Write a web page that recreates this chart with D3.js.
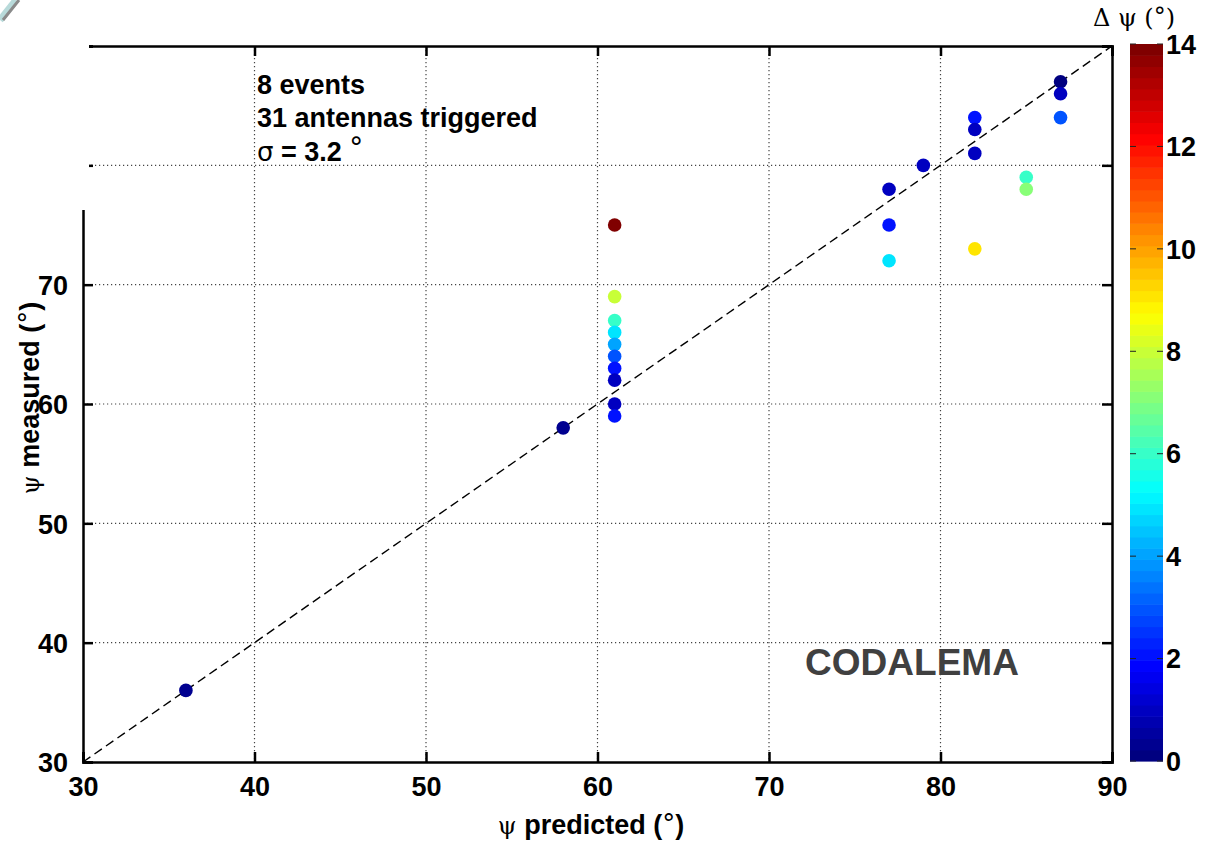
<!DOCTYPE html>
<html>
<head>
<meta charset="utf-8">
<script src="https://cdn.jsdelivr.net/npm/d3@7"></script>
<style>
  body { margin: 0; background: #fff; }
  text { font-family: 'Liberation Sans', Arial, sans-serif; }
  .deg { font-family: 'DejaVu Sans', sans-serif; font-weight: normal; }
</style>
</head>
<body>
<div id="svg-container"></div>
<script>
// data
const predicted = [36, 58, 61, 61, 61, 61, 61, 61, 61, 61, 61, 61, 77, 77, 77, 79, 82, 82, 82, 82, 85, 85, 87, 87, 87]
const measured = [36, 58, 75, 69, 67, 66, 65, 64, 63, 62, 60, 59, 78, 75, 72, 80, 84, 83, 81, 73, 79, 78, 87, 86, 84]
const deltaPsi = [0.3, 0.3, 14, 8, 6, 5, 4, 3, 2, 1, 1, 2, 1, 2, 5, 1, 2, 1, 1, 9, 6, 7, 0.2, 1, 3]
const xTicks = [30, 40, 50, 60, 70, 80, 90]
const yTicks = [30, 40, 50, 60, 70, 80, 90]
const cbTicks = [0, 2, 4, 6, 8, 10, 12, 14]
const infoLines = ['8 events', '31 antennas triggered']

const svgWidth = 1211, svgHeight = 843
const margin = { top: 46, right: 99, bottom: 81, left: 83 }
const width = svgWidth - margin.left - margin.right,
  height = svgHeight - margin.top - margin.bottom

const svg = d3.select('#svg-container').append('svg')
  .attr('width', svgWidth).attr('height', svgHeight)

const xScale = d3.scaleLinear().domain([30, 90]).range([0, width])
const yScale = d3.scaleLinear().domain([30, 90]).range([height, 0])

// matlab "jet" colormap, 64 levels
function jet(t) {
  const c = v => Math.max(0, Math.min(1, v))
  const r = c(1.5 - Math.abs(4 * t - 3)),
    g = c(1.5 - Math.abs(4 * t - 2)),
    b = c(1.5 - Math.abs(4 * t - 1))
  return d3.rgb(r * 255, g * 255, b * 255).formatHex()
}
const nLevels = 64
const colorScale = d3.scaleQuantize().domain([0, 14])
  .range(d3.range(nLevels).map(i => jet(i / (nLevels - 1))))

const g = svg.append('g').attr('transform', `translate(${margin.left},${margin.top})`)

// grid
g.append('g').selectAll('line').data(xTicks.slice(1, -1)).join('line')
  .attr('x1', d => xScale(d)).attr('x2', d => xScale(d))
  .attr('y1', 0).attr('y2', height)
  .attr('stroke', '#444').attr('stroke-width', 1.2).attr('stroke-dasharray', '1.2,2.8')
g.append('g').selectAll('line').data(yTicks.slice(1, -1)).join('line')
  .attr('y1', d => yScale(d)).attr('y2', d => yScale(d))
  .attr('x1', 0).attr('x2', width)
  .attr('stroke', '#444').attr('stroke-width', 1.2).attr('stroke-dasharray', '1.2,2.8')

// diagonal
g.append('line')
  .attr('x1', xScale(30)).attr('y1', yScale(30))
  .attr('x2', xScale(90)).attr('y2', yScale(90))
  .attr('stroke', '#000').attr('stroke-width', 1.4).attr('stroke-dasharray', '9,5')

// points
g.append('g').selectAll('circle').data(predicted).join('circle')
  .attr('cx', (d, i) => xScale(d))
  .attr('cy', (d, i) => yScale(measured[i]))
  .attr('r', 6.8)
  .attr('fill', (d, i) => colorScale(deltaPsi[i]))

// axes, matlab-like: ticks inward on all four sides
const axFont = sel => sel.selectAll('text')
  .style('font-family', "'Liberation Sans', Arial, sans-serif")
  .style('font-weight', 'bold').style('font-size', '27px').attr('fill', '#000')

const xAxis = g.append('g').attr('transform', `translate(0,${height})`)
  .call(d3.axisBottom(xScale).tickValues(xTicks).tickSize(-10).tickPadding(25))
xAxis.call(axFont)
const yAxis = g.append('g')
  .call(d3.axisLeft(yScale).tickValues(yTicks).tickSize(-10).tickPadding(15))
yAxis.call(axFont)
g.append('g').call(d3.axisTop(xScale).tickValues(xTicks).tickSize(-10).tickFormat(''))
g.append('g').attr('transform', `translate(${width},0)`)
  .call(d3.axisRight(yScale).tickValues(yTicks).tickSize(-10).tickFormat(''))
g.selectAll('.domain').attr('stroke', '#000').attr('stroke-width', 2.5)
g.selectAll('.tick line').attr('stroke', '#000').attr('stroke-width', 2.5)
xAxis.selectAll('text').attr('dy', '0.35em')
yAxis.selectAll('text').attr('dy', '0.36em')

// white annotation box covering the top-left corner
svg.append('rect').attr('x', 0).attr('y', 0).attr('width', 89).attr('height', 210).attr('fill', '#fff')
svg.append('line').attr('x1', 0).attr('y1', 20).attr('x2', 16).attr('y2', 0)
  .attr('stroke', '#b8dada').attr('stroke-width', 7)
svg.append('line').attr('x1', 3).attr('y1', 20).attr('x2', 19).attr('y2', 0)
  .attr('stroke', '#8a8a8a').attr('stroke-width', 3)

// info text
const info = svg.append('g').attr('transform', 'translate(257,0)')
info.selectAll('text.info').data(infoLines).join('text').attr('class', 'info')
  .attr('y', (d, i) => 94 + i * 33)
  .style('font-weight', 'bold').style('font-size', '27px')
  .text(d => d)
const sig = info.append('text').attr('y', 161).style('font-size', '27px')
sig.append('tspan').style('font-family', "'DejaVu Sans', sans-serif").style('font-size', '26px').text('σ')
sig.append('tspan').style('font-weight', 'bold').text(' = 3.2 ')
sig.append('tspan').attr('class', 'deg').attr('dy', -4).style('font-size', '28px').text('°')

// CODALEMA
svg.append('text').attr('x', 912).attr('y', 675).attr('text-anchor', 'middle')
  .style('font-weight', 'bold').style('font-size', '37px').attr('fill', '#404040')
  .text('CODALEMA')

// axis labels
function degLabel(t, name) {
  t.append('tspan').style('font-family', "'DejaVu Serif', serif").style('font-size', '24px').text('ψ ')
  t.append('tspan').style('font-weight', 'bold').text(name + ' (')
  t.append('tspan').attr('class', 'deg').attr('dy', -1).style('font-size', '26px').text('°')
  t.append('tspan').attr('dy', 1).style('font-weight', 'bold').text(')')
}
svg.append('text').attr('x', 591).attr('y', 834).attr('text-anchor', 'middle')
  .style('font-size', '27px')
  .call(degLabel, 'predicted')
svg.append('text').attr('transform', 'translate(39,398) rotate(-90)').attr('text-anchor', 'middle')
  .style('font-size', '27px')
  .call(degLabel, 'measured')

// colorbar
const cbX = 1130, cbW = 33
const cbScale = d3.scaleLinear().domain([0, 14]).range([761, 44])
const cb = svg.append('g')
const step = 14 / nLevels
cb.selectAll('rect').data(d3.range(nLevels)).join('rect')
  .attr('x', cbX).attr('width', cbW)
  .attr('y', i => cbScale((i + 1) * step))
  .attr('height', i => cbScale(i * step) - cbScale((i + 1) * step) + 0.6)
  .attr('fill', i => colorScale((i + 0.5) * step))
cb.selectAll('line.tl').data(cbTicks).join('line').attr('class', 'tl')
  .attr('x1', cbX).attr('x2', cbX + 6)
  .attr('y1', d => cbScale(d)).attr('y2', d => cbScale(d))
  .attr('stroke', '#222').attr('stroke-width', 1)
cb.selectAll('line.tr').data(cbTicks).join('line').attr('class', 'tr')
  .attr('x1', cbX + cbW - 6).attr('x2', cbX + cbW)
  .attr('y1', d => cbScale(d)).attr('y2', d => cbScale(d))
  .attr('stroke', '#222').attr('stroke-width', 1)
cb.selectAll('text').data(cbTicks).join('text')
  .attr('x', cbX + cbW + 3).attr('y', d => cbScale(d)).attr('dy', '0.36em')
  .style('font-weight', 'bold').style('font-size', '27px')
  .text(d => d)
svg.append('text').attr('x', 1134).attr('y', 26).attr('text-anchor', 'middle')
  .style('font-size', '26px')
  .call(t => {
    t.append('tspan').style('font-family', "'DejaVu Serif', serif").style('font-size', '24px').text('Δ ψ (')
    t.append('tspan').attr('class', 'deg').attr('dy', -1).style('font-size', '24px').text('°')
    t.append('tspan').attr('dy', 1).style('font-family', "'DejaVu Serif', serif").style('font-size', '24px').text(')')
  })
</script>
</body>
</html>
